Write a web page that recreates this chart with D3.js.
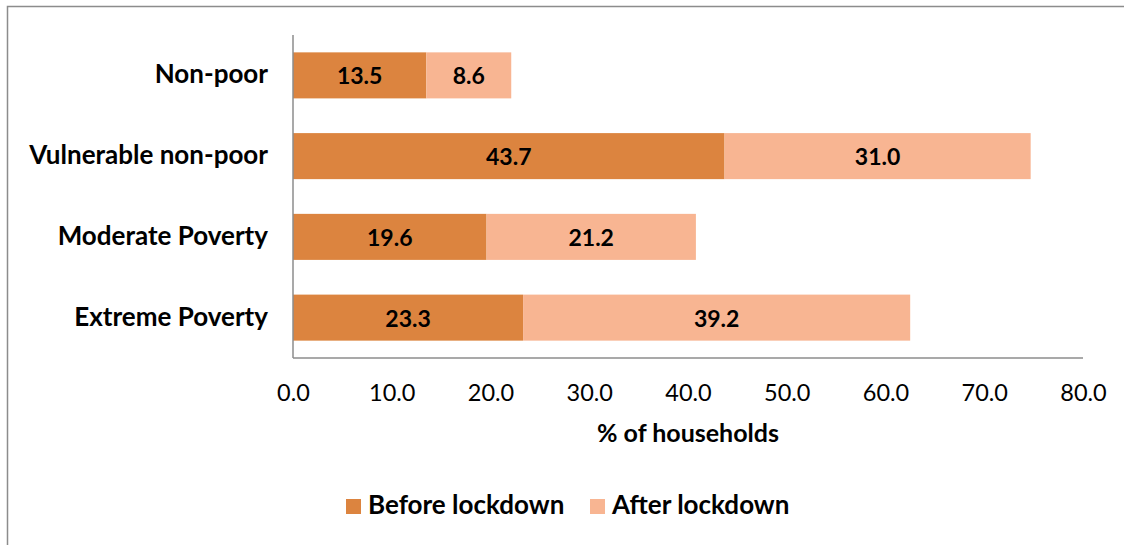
<!DOCTYPE html>
<html>
<head>
<meta charset="utf-8">
<script src="https://cdn.jsdelivr.net/npm/d3@7"></script>
<style>
  html, body { margin: 0; padding: 0; background: #fff; }
  svg { display: block; font-family: Lato, "Open Sans", sans-serif; }
</style>
</head>
<body>
<svg id="chart" width="1124" height="545"></svg>
<script>
// Household shares by poverty status, before and after lockdown
const categories = ["Non-poor", "Vulnerable non-poor", "Moderate Poverty", "Extreme Poverty"];
const beforeLockdown = [13.5, 43.7, 19.6, 23.3];
const afterLockdown = [8.6, 31.0, 21.2, 39.2];
const seriesNames = ["Before lockdown", "After lockdown"];
const seriesColors = ["#dc843f", "#f8b592"];
const xTicks = [0, 10, 20, 30, 40, 50, 60, 70, 80];

const svg = d3.select("#chart");
const W = 1124, H = 545;
const FONT = "Lato, 'Open Sans', sans-serif";

// Outer frame (left and top edges visible)
svg.append("path")
  .attr("d", `M7.5,${H} L7.5,6.5 L${W},6.5`)
  .attr("fill", "none")
  .attr("stroke", "#8c8c8c")
  .attr("stroke-width", 1.5);

const plot = { left: 293, right: 1083, top: 35, bottom: 358 };

const x = d3.scaleLinear().domain([0, 80]).range([plot.left, plot.right]);
const y = d3.scaleBand().domain(categories).range([plot.top, plot.bottom])
  .paddingInner(0.43).paddingOuter(0.215);

const rows = categories.map((c, i) => ({ cat: c, vals: [beforeLockdown[i], afterLockdown[i]] }));
const stack = d3.stack().keys([0, 1]).value((d, k) => d.vals[k]);
const layers = stack(rows);

const g = svg.append("g");
layers.forEach((layer, k) => {
  g.selectAll(null).data(layer).enter().append("rect")
    .attr("x", d => x(d[0]))
    .attr("y", d => y(d.data.cat))
    .attr("width", d => x(d[1]) - x(d[0]))
    .attr("height", y.bandwidth())
    .attr("fill", seriesColors[k]);
  g.selectAll(null).data(layer).enter().append("text")
    .attr("x", d => (x(d[0]) + x(d[1])) / 2)
    .attr("y", d => y(d.data.cat) + y.bandwidth() / 2 + 9)
    .attr("text-anchor", "middle")
    .attr("font-weight", "bold")
    .attr("font-size", 23)
    .attr("fill", "#000")
    .text(d => d.data.vals[k].toFixed(1));
});

// Axis lines
svg.append("line")
  .attr("x1", plot.left).attr("x2", plot.left)
  .attr("y1", plot.top).attr("y2", plot.bottom)
  .attr("stroke", "#8c8c8c").attr("stroke-width", 1.5);
svg.append("line")
  .attr("x1", plot.left).attr("x2", plot.right)
  .attr("y1", plot.bottom).attr("y2", plot.bottom)
  .attr("stroke", "#8c8c8c").attr("stroke-width", 1.5);

// X tick labels
const xAxis = d3.axisBottom(x).tickValues(xTicks).tickFormat(d => d.toFixed(1)).tickSize(0).tickPadding(0);
const xg = svg.append("g").attr("transform", `translate(0,${plot.bottom})`).call(xAxis);
xg.select(".domain").remove();
xg.selectAll("text")
  .attr("y", 43).attr("dy", 0)
  .attr("font-size", 23.5).attr("font-family", FONT)
  .attr("fill", "#000");

// Category labels
const yAxis = d3.axisLeft(y).tickSize(0).tickPadding(0);
const yg = svg.append("g").attr("transform", `translate(268,0)`).call(yAxis);
yg.select(".domain").remove();
yg.selectAll("text")
  .attr("dy", 8)
  .attr("font-size", 26).attr("font-weight", "bold")
  .attr("font-family", FONT)
  .attr("fill", "#000");

// Axis title
svg.append("text")
  .attr("x", 688).attr("y", 442)
  .attr("text-anchor", "middle")
  .attr("font-size", 25).attr("font-weight", "bold")
  .text("% of households");

// Legend
const legendItems = [{ x: 346, t: 368 }, { x: 590, t: 612 }];
legendItems.forEach((p, k) => {
  svg.append("rect").attr("x", p.x).attr("y", 499).attr("width", 15).attr("height", 15).attr("fill", seriesColors[k]);
  svg.append("text").attr("x", p.t).attr("y", 514)
    .attr("font-size", 26).attr("font-weight", "bold")
    .text(seriesNames[k]);
});
</script>
</body>
</html>
